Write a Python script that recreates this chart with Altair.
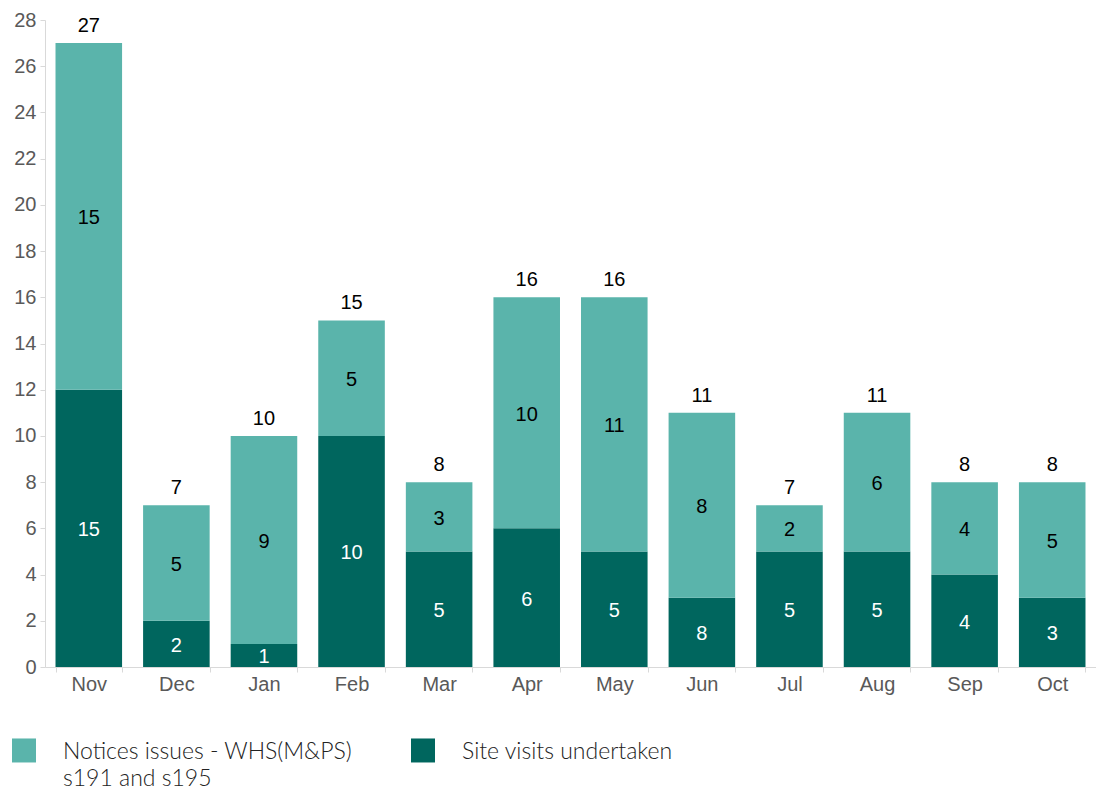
import altair as alt
import pandas as pd

months = ["Nov", "Dec", "Jan", "Feb", "Mar", "Apr", "May", "Jun", "Jul", "Aug", "Sep", "Oct"]
site_visits = [12, 2, 1, 10, 5, 6, 5, 3, 5, 5, 4, 3]
site_visit_labels = [15, 2, 1, 10, 5, 6, 5, 8, 5, 5, 4, 3]
notices = [15, 5, 9, 5, 3, 10, 11, 8, 2, 6, 4, 5]
totals = [27, 7, 10, 15, 8, 16, 16, 11, 7, 11, 8, 8]
series_names = ["Notices issues - WHS(M&PS)\ns191 and s195", "Site visits undertaken\n "]
series_colors = ["#5AB4AB", "#00665E"]
label_colors = ["#000000", "#FFFFFF"]
y_ticks = list(range(0, 29, 2))

rows = []
for i, m in enumerate(months):
    rows.append(dict(month=m, series=series_names[1], value=site_visits[i],
                     order=0, label=site_visit_labels[i],
                     mid=site_visits[i] / 2, tcolor=label_colors[1]))
    rows.append(dict(month=m, series=series_names[0], value=notices[i],
                     order=1, label=notices[i],
                     mid=site_visits[i] + notices[i] / 2, tcolor=label_colors[0]))
df = pd.DataFrame(rows)
tot = pd.DataFrame(dict(month=months, total=totals))

FONT = "Liberation Sans"

x_enc = alt.X("month:N", sort=months, title=None,
              scale=alt.Scale(paddingInner=0.24, paddingOuter=0.12),
              axis=alt.Axis(labelAngle=0, tickBand="extent", ticks=True, tickSize=5,
                            labelPadding=2, labelFontSize=20, labelFont=FONT,
                            labelColor="#595959", domainColor="#d9d9d9",
                            tickColor="#d9d9d9", grid=False))
y_scale = alt.Scale(domain=[0, 28], nice=False)

bars = alt.Chart(df).mark_bar().encode(
    x=x_enc,
    y=alt.Y("value:Q", stack="zero", scale=y_scale, title=None,
            axis=alt.Axis(values=y_ticks, grid=False, tickSize=5, labelPadding=4,
                          labelFontSize=20, labelFont=FONT, labelColor="#595959",
                          domainColor="#d9d9d9", tickColor="#d9d9d9")),
    color=alt.Color("series:N", scale=alt.Scale(domain=series_names, range=series_colors),
                    title=None,
                    legend=alt.Legend(orient="none", legendX=-33, legendY=727,
                                      direction="horizontal",
                                      symbolType="M-1,-1.71H1V0.29H-1Z",
                                      symbolSize=576, symbolStrokeWidth=0,
                                      labelFontSize=23, labelFont="Lato",
                                      labelFontWeight=300,
                                      labelBaseline="alphabetic",
                                      labelColor="#222222", labelOffset=27,
                                      labelLimit=600,
                                      columnPadding=58,
                                      labelExpr="split(datum.label, '\\n')")),
    order=alt.Order("order:Q"),
)

seg_text = alt.Chart(df).mark_text(baseline="middle", dy=2, fontSize=20, font=FONT).encode(
    x=alt.X("month:N", sort=months),
    y=alt.Y("mid:Q", scale=y_scale),
    text=alt.Text("label:Q"),
    color=alt.Color("tcolor:N", scale=None),
)

tot_text = alt.Chart(tot).mark_text(baseline="alphabetic", dy=-11, fontSize=20,
                                    font=FONT, color="#000000").encode(
    x=alt.X("month:N", sort=months),
    y=alt.Y("total:Q", scale=y_scale),
    text=alt.Text("total:Q"),
)

chart = alt.layer(bars, seg_text, tot_text).properties(
    width=1051, height=647,
    autosize=alt.AutoSizeParams(type="none"),
    padding={"left": 37, "top": 12, "right": 0, "bottom": 127},
).configure(
    style={"guide-label": {"lineHeight": 27}}
).configure_view(stroke="transparent", strokeWidth=0)

chart.save("out.html", embed_options={"renderer": "svg", "actions": False})
